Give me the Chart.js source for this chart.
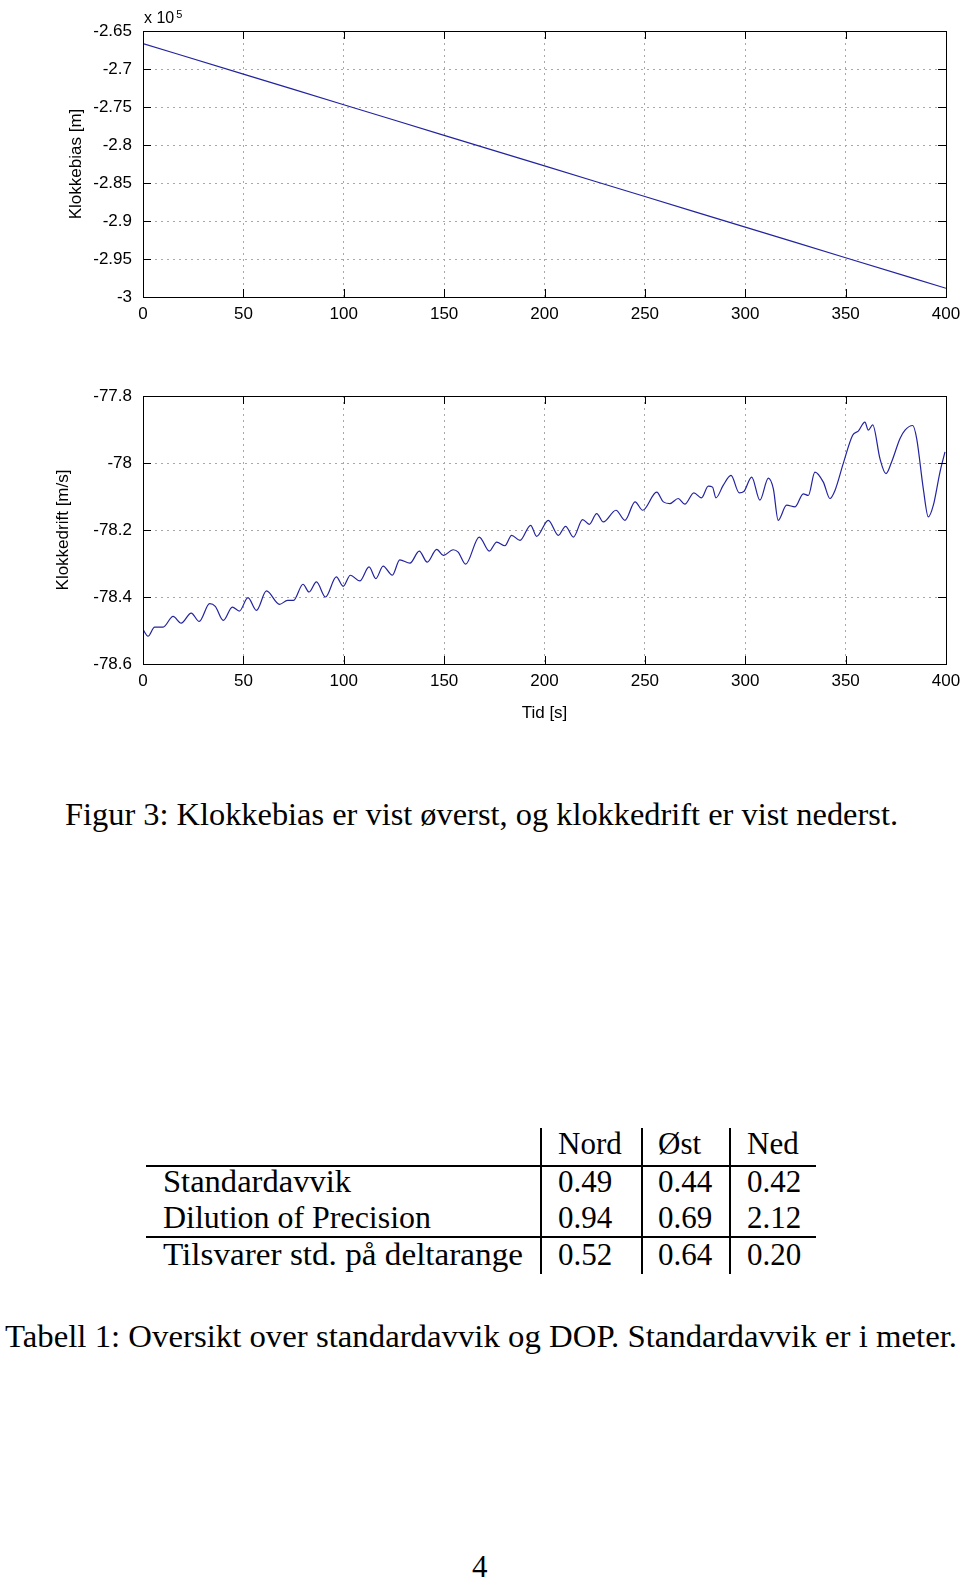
<!DOCTYPE html>
<html>
<head>
<meta charset="utf-8">
<script src="https://cdn.jsdelivr.net/npm/chart.js@4.4.0/dist/chart.umd.min.js"></script>
<style>
  body { margin: 0; width: 960px; height: 1577px; background: #fff; position: relative; overflow: hidden; color: #000; }
  .plot { position: absolute; left: 0; }
  .serif { position: absolute; white-space: nowrap; line-height: 1; font-family: "Liberation Serif", serif; font-size: 31px; transform-origin: left center; }
  .rule { position: absolute; background: #000; }
  #expo { position: absolute; left: 144px; top: 10px; font: 16px "Liberation Sans", Arial, sans-serif; line-height: 1; }
  #expo sup { font-size: 11px; position: relative; top: -5px; vertical-align: baseline; margin-left: 2px; }
</style>
</head>
<body>
<canvas id="biasChart" class="plot" width="960" height="340" style="top:0"></canvas>
<canvas id="driftChart" class="plot" width="960" height="380" style="top:360px"></canvas>
<div id="expo">x 10<sup>5</sup></div>

<div class="serif" data-w="833" style="left:65px; top:799px">Figur 3: Klokkebias er vist øverst, og klokkedrift er vist nederst.</div>
<div id="table"></div>
<div class="serif" data-w="952" style="left:5px; top:1321px">Tabell 1: Oversikt over standardavvik og DOP. Standardavvik er i meter.</div>
<div class="serif" style="left:472px; top:1551px">4</div>

<script>
// top plot: clock bias (m)
const biasTime = [0, 50, 100, 150, 200, 250, 300, 350, 400];
const biasValue = [-266650, -270680, -274700, -278730, -282750, -286780, -290800, -294830, -298850];

// bottom plot: clock drift (m/s)
const driftTime = [
  0, 2.5, 5.8, 10, 15, 19, 24, 28, 33.2, 36,
  40, 44.5, 48, 52.3, 56.5, 61.5, 68, 72, 75, 79.7,
  82.7, 86.4, 90.9, 96.3, 99.7, 103.3, 108, 112.6, 116, 119.6,
  124.2, 127.9, 133, 137.6, 141.6, 146.3, 149.6, 154.5, 157, 160.7,
  167.5, 172.5, 176.2, 180.3, 183.6, 187.8, 193.1, 196.1, 201.9, 206.9,
  210.5, 214.4, 219, 222.3, 226, 229.3, 235.6, 240.1, 245.1, 248.9,
  255.9, 259.2, 262.5, 266.6, 269.9, 274.4, 278.2, 281.6, 283.7, 285.4,
  289, 292.9, 297, 299.3, 303.2, 307.3, 311.5, 314, 316.4, 320.6,
  324.8, 328.9, 331.4, 334.7, 338.9, 342.2, 344.7, 348.8, 353.5, 356.3,
  359.6, 361.3, 363.5, 367.1, 370.1, 372.9, 377.1, 379.6, 383.4, 385.4,
  388.7, 391.2, 393.7, 397, 399.5
];
const driftValue = [
  -78.497, -78.517, -78.490, -78.490, -78.458, -78.478, -78.448, -78.473, -78.420, -78.428,
  -78.470, -78.430, -78.442, -78.402, -78.440, -78.382, -78.422, -78.410, -78.410, -78.362,
  -78.385, -78.355, -78.400, -78.340, -78.368, -78.335, -78.352, -78.310, -78.345, -78.308,
  -78.335, -78.289, -78.299, -78.263, -78.296, -78.258, -78.276, -78.259, -78.266, -78.302,
  -78.221, -78.263, -78.236, -78.247, -78.216, -78.231, -78.186, -78.219, -78.171, -78.216,
  -78.189, -78.221, -78.169, -78.183, -78.151, -78.176, -78.141, -78.171, -78.116, -78.141,
  -78.087, -78.116, -78.121, -78.106, -78.123, -78.089, -78.104, -78.069, -78.072, -78.104,
  -78.067, -78.037, -78.089, -78.085, -78.042, -78.111, -78.045, -78.077, -78.171, -78.126,
  -78.131, -78.092, -78.097, -78.027, -78.057, -78.106, -78.082, -78.002, -77.917, -77.905,
  -77.878, -77.902, -77.886, -77.987, -78.032, -77.997, -77.927, -77.902, -77.888, -77.927,
  -78.077, -78.161, -78.126, -78.027, -77.967
];

const timeTicks = [0, 50, 100, 150, 200, 250, 300, 350, 400];
const biasTicks = [-300000, -295000, -290000, -285000, -280000, -275000, -270000, -265000];
const driftTicks = [-78.6, -78.4, -78.2, -78, -77.8];

// table
const colNames = ['Nord', 'Øst', 'Ned'];
const rowNames = ['Standardavvik', 'Dilution of Precision', 'Tilsvarer std. på deltarange'];
const stdValues = ['0.49', '0.44', '0.42'];
const dopValues = ['0.94', '0.69', '2.12'];
const deltaValues = ['0.52', '0.64', '0.20'];

const lineColor = '#2323a0';
const tickFont = { family: '"Liberation Sans", Arial, sans-serif', size: 17 };

// matlab style box with inward tick marks
const matlabFrame = {
  id: 'matlabFrame',
  afterDraw(chart) {
    const { ctx, chartArea: a, scales: { x, y } } = chart;
    ctx.save();
    ctx.strokeStyle = '#000';
    ctx.lineWidth = 1;
    ctx.strokeRect(a.left + 0.5, a.top + 0.5, a.right - a.left, a.bottom - a.top);
    ctx.beginPath();
    x.ticks.forEach(t => {
      const px = Math.round(x.getPixelForValue(t.value)) + 0.5;
      ctx.moveTo(px, a.bottom); ctx.lineTo(px, a.bottom - 8);
      ctx.moveTo(px, a.top); ctx.lineTo(px, a.top + 8);
    });
    y.ticks.forEach(t => {
      const py = Math.round(y.getPixelForValue(t.value)) + 0.5;
      ctx.moveTo(a.left, py); ctx.lineTo(a.left + 8, py);
      ctx.moveTo(a.right, py); ctx.lineTo(a.right - 8, py);
    });
    ctx.stroke();
    ctx.restore();
  }
};

function fmt(v) { return String(+v.toFixed(2)); }

function makeChart(id, xs, ys, yTicks, yMin, yMax, yLabel, yCb, opts) {
  return new Chart(document.getElementById(id), {
    type: 'line',
    data: {
      datasets: [{
        data: xs.map((t, i) => ({ x: t, y: ys[i] })),
        borderColor: lineColor,
        borderWidth: 1.2,
        pointRadius: 0,
        cubicInterpolationMode: 'monotone'
      }]
    },
    options: {
      responsive: false,
      animation: false,
      devicePixelRatio: 1,
      layout: { padding: { top: opts.top, right: 14, left: 0, bottom: 0 } },
      plugins: { legend: { display: false }, tooltip: { enabled: false } },
      scales: {
        x: {
          type: 'linear', min: 0, max: 400,
          afterBuildTicks: s => { s.ticks = timeTicks.map(v => ({ value: v })); },
          afterFit: s => { s.height = opts.xh; s.paddingLeft = 0; s.paddingRight = 0; },
          grid: { color: '#a8a8a8', drawTicks: false },
          border: { display: false, dash: [2, 4] },
          ticks: { color: '#000', font: tickFont, padding: 7, maxRotation: 0, callback: v => String(v) },
          title: opts.xTitle ? { display: true, text: opts.xTitle, color: '#000', font: tickFont, padding: { top: 0, bottom: 16 } } : { display: false }
        },
        y: {
          type: 'linear', min: yMin, max: yMax,
          afterBuildTicks: s => { s.ticks = yTicks.map(v => ({ value: v })); },
          afterFit: s => { s.width = 143; s.paddingTop = 0; s.paddingBottom = 0; },
          grid: { color: '#a8a8a8', drawTicks: false },
          border: { display: false, dash: [2, 4] },
          ticks: { color: '#000', font: tickFont, padding: 11, callback: yCb },
          title: { display: true, text: yLabel, color: '#000', font: tickFont, padding: { top: opts.titlePad, bottom: 0 } }
        }
      }
    },
    plugins: [matlabFrame]
  });
}

makeChart('biasChart', biasTime, biasValue, biasTicks, -300000, -265000, 'Klokkebias [m]',
  v => fmt(v / 1e5), { top: 31, xh: 43, titlePad: 66 });
makeChart('driftChart', driftTime, driftValue, driftTicks, -78.6, -77.8, 'Klokkedrift [m/s]',
  v => fmt(v), { top: 36, xh: 76, titlePad: 53, xTitle: 'Tid [s]' });

// table layout
const table = document.getElementById('table');
function put(text, left, cy, w) {
  const d = document.createElement('div');
  d.className = 'serif';
  d.textContent = text;
  d.style.left = left + 'px';
  d.style.top = (cy - 16) + 'px';
  if (w) d.dataset.w = w;
  table.appendChild(d);
}
function rule(l, t, w, h) {
  const d = document.createElement('div');
  d.className = 'rule';
  Object.assign(d.style, { left: l + 'px', top: t + 'px', width: w + 'px', height: h + 'px' });
  table.appendChild(d);
}
const colLeft = [558, 658, 747];
const rowY = [1182, 1218, 1255];
const rowWidth = [188, 268, 360];
colNames.forEach((c, i) => put(c, colLeft[i], 1144));
const rows = [stdValues, dopValues, deltaValues];
rowNames.forEach((r, j) => {
  put(r, 163, rowY[j], rowWidth[j]);
  rows[j].forEach((v, i) => put(v, colLeft[i], rowY[j]));
});
rule(146, 1165, 670, 2);
rule(146, 1236, 670, 2);
[540, 641, 729].forEach(x => rule(x, 1128, 1.5, 146));

// stretch captions and row labels to the measured reference width
document.querySelectorAll('[data-w]').forEach(el => {
  const w = el.getBoundingClientRect().width;
  el.style.transform = 'scaleX(' + (el.dataset.w / w) + ')';
});
</script>
</body>
</html>
